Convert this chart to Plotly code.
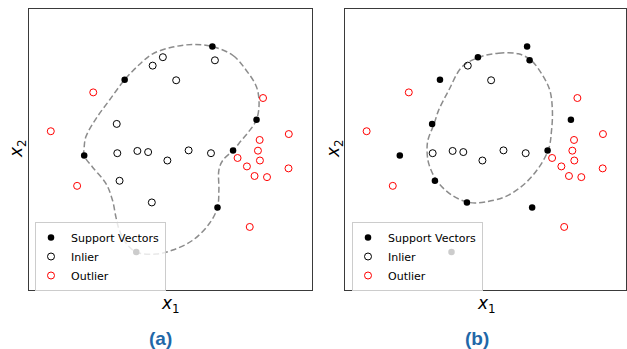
import plotly.graph_objects as go

# ---------------- data (shared sample points, data units 0..10) ----------------
pts_x = [6.48, 3.38, 8.04, 1.95, 7.21, 6.66, 3.79,
         4.73, 4.37, 6.57, 5.20, 3.10, 3.12, 3.83, 4.21, 4.89, 5.64, 6.43, 3.20, 4.34,
         2.27, 0.77, 1.70, 8.27, 9.18, 8.15, 8.09, 8.16, 7.37, 7.70, 7.97, 8.41, 9.17, 7.80]
pts_y = [8.65, 7.47, 6.05, 4.78, 4.96, 2.93, 1.35,
         8.27, 7.97, 8.16, 7.45, 5.90, 4.86, 4.94, 4.90, 4.60, 4.96, 4.86, 3.88, 3.11,
         7.02, 5.64, 3.70, 6.82, 5.54, 5.33, 4.95, 4.60, 4.69, 4.39, 4.05, 4.01, 4.32, 2.24]

# point role in each panel: S = support vector, I = inlier, O = outlier
labels_a = ["S", "S", "S", "S", "S", "S", "S",
            "I", "I", "I", "I", "I", "I", "I", "I", "I", "I", "I", "I", "I",
            "O", "O", "O", "O", "O", "O", "O", "O", "O", "O", "O", "O", "O", "O"]
labels_b = ["S", "S", "S", "S", "S", "S", "S",
            "S", "I", "S", "I", "S", "I", "I", "I", "I", "I", "I", "S", "S",
            "O", "O", "O", "O", "O", "O", "O", "O", "O", "O", "O", "O", "O", "O"]

# decision boundaries
boundary_a_x = [6.48, 7.21, 7.68, 8.04, 8.13, 8.04, 7.80, 7.51, 7.21, 6.85, 6.71, 6.71,
                6.66, 6.38, 5.79, 5.08, 4.49, 3.80, 3.43, 3.19, 3.07, 2.95, 2.72, 2.24,
                1.95, 1.95, 2.01, 2.37, 2.84, 3.38, 3.90, 4.37, 5.08, 5.79, 6.48]
boundary_a_y = [8.65, 8.33, 7.80, 7.21, 6.62, 6.05, 5.67, 5.32, 4.96, 4.61, 4.26, 3.55,
                2.93, 2.37, 1.77, 1.42, 1.28, 1.34, 1.66, 2.13, 2.60, 3.19, 3.78, 4.37,
                4.78, 5.08, 5.44, 6.09, 6.74, 7.47, 8.01, 8.39, 8.63, 8.72, 8.65]

boundary_b_x = [4.78, 5.46, 6.17, 6.62, 7.00, 7.29, 7.38, 7.35, 7.23, 6.64, 5.82, 4.99,
                4.42, 3.80, 3.27, 2.98, 2.92, 2.95, 3.17, 3.33, 3.69, 4.16, 4.78]
boundary_b_y = [8.27, 8.41, 8.39, 8.16, 7.68, 7.09, 6.38, 5.67, 4.96, 4.02, 3.37, 3.13,
                3.11, 3.37, 3.88, 4.49, 4.96, 5.32, 5.90, 6.38, 7.09, 7.92, 8.27]

legend_names = {"S": "Support Vectors", "I": "Inlier", "O": "Outlier"}
panel_titles = ["(a)", "(b)"]

# ---------------- figure ----------------
fig = go.Figure()

panels = [
    dict(labels=labels_a, bx=boundary_a_x, by=boundary_a_y, xa="x", ya="y", leg="legend"),
    dict(labels=labels_b, bx=boundary_b_x, by=boundary_b_y, xa="x2", ya="y2", leg="legend2"),
]

styles = {
    "S": dict(symbol="circle", color="black", size=6.5, line=dict(width=0)),
    "I": dict(symbol="circle-open", color="black", size=7, line=dict(width=1)),
    "O": dict(symbol="circle-open", color="red", size=7, line=dict(width=1)),
}

for p in panels:
    fig.add_trace(go.Scatter(
        x=p["bx"], y=p["by"], mode="lines", xaxis=p["xa"], yaxis=p["ya"],
        line=dict(color="#8c8c8c", width=1.5, dash="6px,3px", shape="spline", smoothing=1.0),
        showlegend=False, hoverinfo="skip"))
    for cat in ["S", "I", "O"]:
        xs = [x for x, l in zip(pts_x, p["labels"]) if l == cat]
        ys = [y for y, l in zip(pts_y, p["labels"]) if l == cat]
        fig.add_trace(go.Scatter(
            x=xs, y=ys, mode="markers", name=legend_names[cat],
            xaxis=p["xa"], yaxis=p["ya"], legend=p["leg"], marker=styles[cat]))

W, H = 627, 349
ytop, ybot = 1 - 8.5 / H, 1 - 290 / H
ax_common = dict(range=[0, 10], showticklabels=False, ticks="", showgrid=False,
                 zeroline=False, showline=True, mirror=True, linecolor="#3a3a3a", linewidth=1.2)

leg_common = dict(bgcolor="rgba(255,255,255,0.8)", bordercolor="#cccccc", borderwidth=1,
                  font=dict(family="DejaVu Sans", size=11, color="black"),
                  xanchor="left", yanchor="top", tracegroupgap=0, itemsizing="trace",
                  indentation=-5)

fig.update_layout(
    width=W, height=H, margin=dict(l=0, r=0, t=0, b=0),
    paper_bgcolor="white", plot_bgcolor="white",
    xaxis=dict(domain=[29 / W, 312 / W], anchor="y", **ax_common),
    yaxis=dict(domain=[ybot, ytop], anchor="x", **ax_common),
    xaxis2=dict(domain=[345 / W, 626 / W], anchor="y2", **ax_common),
    yaxis2=dict(domain=[ybot, ytop], anchor="x2", **ax_common),
    legend=dict(x=35 / W, y=1 - 222 / H, **leg_common),
    legend2=dict(x=352 / W, y=1 - 222 / H, **leg_common),
)

label_font = dict(family="DejaVu Sans", size=17, color="black")
cap_font = dict(family="Liberation Sans", size=19, color="#1f68a8")
for cx, lx in [(170.5, 17), (486, 334)]:
    fig.add_annotation(text="<i>x</i><sub>1</sub>", x=cx / W, y=1 - 304 / H, xref="paper", yref="paper",
                       showarrow=False, font=label_font, xanchor="center", yanchor="middle")
    fig.add_annotation(text="<i>x</i><sub>2</sub>", x=lx / W, y=1 - 149 / H, xref="paper", yref="paper",
                       showarrow=False, font=label_font, textangle=-90, xanchor="center", yanchor="middle")
for capx, t in zip([160, 477], panel_titles):
    fig.add_annotation(text="<b>" + t + "</b>", x=capx / W, y=1 - 338 / H, xref="paper", yref="paper",
                       showarrow=False, font=cap_font, xanchor="center", yanchor="middle")

fig.write_html("out.html", config={"displayModeBar": False},
               post_script="document.body.style.margin='0px';")
